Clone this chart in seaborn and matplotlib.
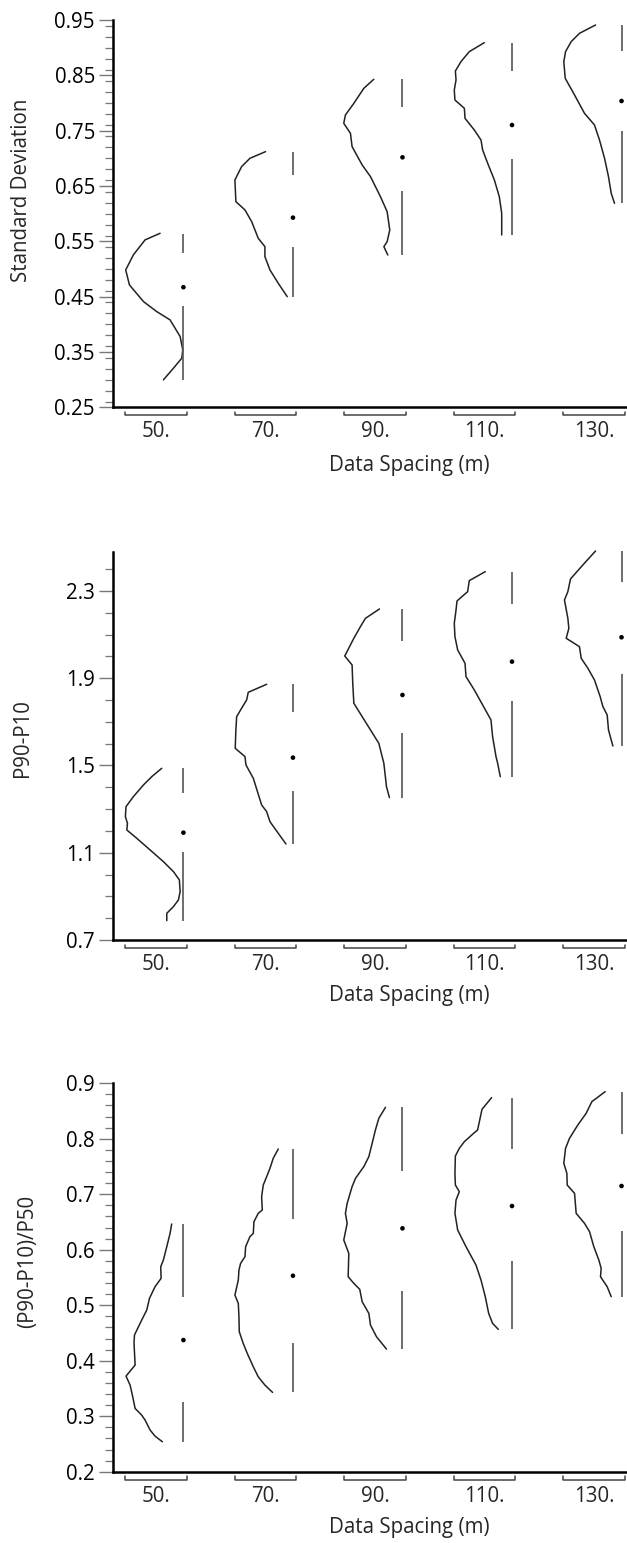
import numpy as np
import pandas as pd
import matplotlib
matplotlib.use("Agg")
import matplotlib.pyplot as plt
import matplotlib.transforms as mtransforms
from matplotlib.ticker import MultipleLocator
import seaborn as sns

sns.set_style("ticks")
plt.rcParams['font.family'] = ['Open Sans', 'DejaVu Sans']

# ---------------- data ----------------
categories = ["50.", "70.", "90.", "110.", "130."]
x_label = "Data Spacing (m)"

# Panel 1: Standard Deviation
sd_curve_y = [
    [0.5645, 0.5526, 0.5255, 0.4983, 0.4712, 0.4411, 0.4230, 0.4080, 0.3779, 0.3538, 0.3388, 0.3207, 0.2996],
    [0.7121, 0.7000, 0.6849, 0.6609, 0.6217, 0.6067, 0.5856, 0.5555, 0.5404, 0.5223, 0.4983, 0.4741, 0.4500],
    [0.8428, 0.8265, 0.7994, 0.7783, 0.7633, 0.7452, 0.7211, 0.6880, 0.6669, 0.6307, 0.6036, 0.5705, 0.5494, 0.5404, 0.5253],
    [0.9090, 0.8928, 0.8747, 0.8578, 0.8416, 0.8235, 0.8054, 0.7904, 0.7723, 0.7512, 0.7331, 0.7151, 0.6910, 0.6609, 0.6307, 0.6006, 0.5615],
    [0.9410, 0.9259, 0.9108, 0.8928, 0.8747, 0.8446, 0.8145, 0.7813, 0.7603, 0.7331, 0.7000, 0.6669, 0.6367, 0.6187],
]
sd_curve_w = [
    [0.213, 0.350, 0.457, 0.527, 0.493, 0.365, 0.244, 0.122, 0.030, 0.006, 0.015, 0.091, 0.183],
    [0.250, 0.393, 0.469, 0.530, 0.521, 0.438, 0.377, 0.317, 0.256, 0.256, 0.210, 0.134, 0.052],
    [0.262, 0.353, 0.444, 0.521, 0.536, 0.475, 0.460, 0.368, 0.292, 0.201, 0.140, 0.116, 0.140, 0.170, 0.134],
    [0.253, 0.390, 0.466, 0.517, 0.511, 0.527, 0.521, 0.435, 0.429, 0.344, 0.283, 0.268, 0.222, 0.161, 0.116, 0.094, 0.094],
    [0.237, 0.384, 0.460, 0.511, 0.527, 0.514, 0.429, 0.338, 0.247, 0.201, 0.155, 0.119, 0.094, 0.064],
]
sd_min = [0.2996, 0.4500, 0.5253, 0.5615, 0.6187]
sd_q1 = [0.4322, 0.5392, 0.6416, 0.6982, 0.7495]
sd_med = [0.4671, 0.5928, 0.7018, 0.7602, 0.8036]
sd_q3 = [0.5286, 0.6699, 0.7934, 0.8584, 0.8946]
sd_max = [0.5629, 0.7121, 0.8428, 0.9090, 0.9410]

# Panel 2: P90-P10
pp_curve_y = [
    [1.4871, 1.4489, 1.4107, 1.3572, 1.3114, 1.2655, 1.2350, 1.2044, 1.1662, 1.1127, 1.0592, 1.0134, 0.9752, 0.9217, 0.8835, 0.8530, 0.8224, 0.7888],
    [1.8722, 1.8355, 1.8003, 1.7621, 1.7239, 1.6628, 1.5788, 1.5406, 1.5024, 1.4413, 1.3190, 1.2885, 1.2426, 1.1891, 1.1402],
    [2.2175, 2.1747, 2.1365, 2.0830, 2.0020, 1.9608, 1.8767, 1.7851, 1.7239, 1.6628, 1.6017, 1.5100, 1.4030, 1.3526],
    [2.3886, 2.3474, 2.2969, 2.2542, 2.2129, 2.1518, 2.0907, 2.0295, 1.9684, 1.9073, 1.8462, 1.7774, 1.7087, 1.6323, 1.5406, 1.5100, 1.4489],
    [2.4834, 2.4192, 2.3550, 2.2969, 2.2587, 2.1747, 2.1289, 2.0830, 2.0448, 1.9913, 1.9455, 1.8920, 1.8156, 1.7698, 1.7316, 1.6628, 1.5895],
]
pp_curve_w = [
    [0.198, 0.289, 0.365, 0.457, 0.524, 0.530, 0.511, 0.517, 0.426, 0.304, 0.183, 0.091, 0.037, 0.030, 0.046, 0.091, 0.152, 0.152],
    [0.240, 0.408, 0.423, 0.469, 0.514, 0.521, 0.527, 0.438, 0.429, 0.362, 0.286, 0.240, 0.210, 0.134, 0.064],
    [0.210, 0.338, 0.384, 0.444, 0.527, 0.460, 0.454, 0.444, 0.368, 0.292, 0.216, 0.170, 0.146, 0.119],
    [0.244, 0.390, 0.405, 0.502, 0.511, 0.527, 0.521, 0.496, 0.429, 0.420, 0.344, 0.268, 0.192, 0.177, 0.146, 0.131, 0.107],
    [0.237, 0.353, 0.466, 0.490, 0.521, 0.490, 0.481, 0.505, 0.384, 0.368, 0.307, 0.247, 0.195, 0.170, 0.131, 0.119, 0.079],
]
pp_min = [0.7888, 1.1402, 1.3526, 1.4489, 1.5895]
pp_q1 = [1.1051, 1.3847, 1.6475, 1.7973, 1.9195]
pp_med = [1.1921, 1.5360, 1.8232, 1.9761, 2.0876]
pp_q3 = [1.3725, 1.7469, 2.0723, 2.2404, 2.3397]
pp_max = [1.4871, 1.8722, 2.2175, 2.3886, 2.4834]

# Panel 3: (P90-P10)/P50
rel_curve_y = [
    [0.6464, 0.6296, 0.6055, 0.5815, 0.5695, 0.5484, 0.5334, 0.5124, 0.4913, 0.4733, 0.4463, 0.4312, 0.3922, 0.3723, 0.3561, 0.3351, 0.3140, 0.3020, 0.2930, 0.2750, 0.2641, 0.2539],
    [0.7816, 0.7648, 0.7467, 0.7317, 0.7167, 0.6957, 0.6716, 0.6656, 0.6506, 0.6296, 0.6235, 0.6055, 0.5875, 0.5755, 0.5634, 0.5454, 0.5184, 0.5033, 0.4793, 0.4522, 0.4312, 0.4132, 0.3891, 0.3711, 0.3561, 0.3429],
    [0.8567, 0.8369, 0.8159, 0.7918, 0.7678, 0.7498, 0.7287, 0.7137, 0.6836, 0.6656, 0.6476, 0.6175, 0.5935, 0.5514, 0.5394, 0.5286, 0.5064, 0.4853, 0.4643, 0.4432, 0.4210],
    [0.8742, 0.8531, 0.8159, 0.8099, 0.7948, 0.7828, 0.7690, 0.7377, 0.7167, 0.7047, 0.6896, 0.6656, 0.6356, 0.6055, 0.5725, 0.5454, 0.5154, 0.4853, 0.4673, 0.4565],
    [0.8850, 0.8669, 0.8459, 0.8249, 0.8008, 0.7828, 0.7558, 0.7377, 0.7167, 0.7017, 0.6656, 0.6476, 0.6326, 0.6055, 0.5815, 0.5665, 0.5514, 0.5334, 0.5154],
]
rel_curve_w = [
    [0.107, 0.122, 0.152, 0.183, 0.207, 0.204, 0.259, 0.310, 0.335, 0.381, 0.447, 0.451, 0.441, 0.524, 0.487, 0.463, 0.441, 0.381, 0.350, 0.304, 0.259, 0.192],
    [0.134, 0.180, 0.210, 0.240, 0.271, 0.286, 0.280, 0.317, 0.356, 0.362, 0.393, 0.432, 0.438, 0.478, 0.493, 0.499, 0.530, 0.499, 0.493, 0.490, 0.454, 0.417, 0.362, 0.317, 0.256, 0.186],
    [0.155, 0.216, 0.247, 0.277, 0.307, 0.353, 0.429, 0.460, 0.505, 0.521, 0.505, 0.536, 0.490, 0.496, 0.444, 0.390, 0.368, 0.307, 0.292, 0.237, 0.146],
    [0.186, 0.274, 0.314, 0.350, 0.435, 0.481, 0.517, 0.521, 0.517, 0.481, 0.511, 0.521, 0.496, 0.420, 0.329, 0.283, 0.244, 0.213, 0.177, 0.125],
    [0.149, 0.271, 0.323, 0.399, 0.475, 0.511, 0.527, 0.499, 0.496, 0.429, 0.414, 0.338, 0.292, 0.253, 0.207, 0.186, 0.192, 0.131, 0.094],
]
rel_min = [0.2539, 0.3429, 0.4210, 0.4565, 0.5154]
rel_q1 = [0.3261, 0.4324, 0.5262, 0.5803, 0.6338]
rel_med = [0.4372, 0.5532, 0.6386, 0.6788, 0.7149]
rel_q3 = [0.5154, 0.6548, 0.7425, 0.7816, 0.8080]
rel_max = [0.6464, 0.7816, 0.8567, 0.8742, 0.8850]

panels = [
    dict(ylabel="Standard Deviation", cy=sd_curve_y, cw=sd_curve_w,
         mn=sd_min, q1=sd_q1, md=sd_med, q3=sd_q3, mx=sd_max,
         ylim=(0.25, 0.95), major=0.1, minor=0.02, fmt="{:.2f}",
         rect=(20, 407.3), ylab_pos=(22, 190), xlab_y=465),
    dict(ylabel="P90-P10", cy=pp_curve_y, cw=pp_curve_w,
         mn=pp_min, q1=pp_q1, md=pp_med, q3=pp_q3, mx=pp_max,
         ylim=(0.7, 2.48), major=0.4, minor=0.1, fmt="{:.1f}",
         rect=(551.7, 940.0), ylab_pos=(22, 738), xlab_y=995),
    dict(ylabel="(P90-P10)/P50", cy=rel_curve_y, cw=rel_curve_w,
         mn=rel_min, q1=rel_q1, md=rel_med, q3=rel_q3, mx=rel_max,
         ylim=(0.2, 0.9), major=0.1, minor=0.02, fmt="{:.1f}",
         rect=(1083.3, 1471.7), ylab_pos=(28, 1261), xlab_y=1528),
]

W, H = 627, 1543
fig = plt.figure(figsize=(W / 100, H / 100), dpi=100)

pos = np.arange(len(categories))
box_off = 0.25
half_br = 0.28
curve_col = "#222222"
box_col = "#555555"
FS = 14.8

for p in panels:
    top, bot = p["rect"]
    ax = fig.add_axes([113 / W, 1 - bot / H, (W - 113) / W, (bot - top) / H])
    # violin outlines (left half)
    for i in range(len(categories)):
        df = pd.DataFrame({"x": pos[i] + box_off - np.array(p["cw"][i]),
                           "y": p["cy"][i]})
        sns.lineplot(data=df, x="x", y="y", sort=False, estimator=None,
                     color=curve_col, lw=1.1, ax=ax, clip_on=False)
    # box whiskers
    bx = pos + box_off
    ax.vlines(bx, p["mn"], p["q1"], color=box_col, lw=1.2, clip_on=False)
    ax.vlines(bx, p["q3"], p["mx"], color=box_col, lw=1.2, clip_on=False)
    sns.scatterplot(x=bx, y=p["md"], color="black", s=11, edgecolor="none",
                    ax=ax, zorder=5, clip_on=False)

    ax.set_xlim(-0.393, 4.30)
    ax.set_ylim(*p["ylim"])
    sns.despine(ax=ax)
    for s in ("left", "bottom"):
        ax.spines[s].set_linewidth(1.8)
        ax.spines[s].set_color("black")

    lo, hi = p["ylim"]
    majors = np.arange(lo, hi + 1e-9, p["major"])
    ax.set_yticks(majors)
    ax.set_yticklabels([p["fmt"].format(v) for v in majors])
    ax.yaxis.set_minor_locator(MultipleLocator(p["minor"]))
    ax.tick_params(axis="y", which="major", length=10, width=1.0, color="#777777",
                   labelsize=FS, pad=3.0, labelcolor="black")
    ax.tick_params(axis="y", which="minor", length=5.5, width=0.9, color="#777777")

    ax.set_xticks(pos)
    ax.set_xticklabels(categories)
    ax.tick_params(axis="x", which="both", length=0, labelsize=FS, pad=10)
    ax.set_xlabel("")
    ax.set_ylabel("")

    # category brackets below axis
    trans = mtransforms.blended_transform_factory(ax.transData, ax.transAxes)
    by = -8 / (bot - top)
    bt = -4.5 / (bot - top)
    for c in pos:
        ax.plot([c - half_br, c - half_br, c + half_br, c + half_br],
                [bt, by, by, bt], transform=trans, color="#444444",
                lw=1.1, clip_on=False)

    fig.text(p["ylab_pos"][0] / W, 1 - p["ylab_pos"][1] / H, p["ylabel"],
             rotation=90, ha="center", va="center", fontsize=FS)
    fig.text(409 / W, 1 - p["xlab_y"] / H, x_label, ha="center", va="center",
             fontsize=FS)

fig.savefig("out.png", dpi=100)
